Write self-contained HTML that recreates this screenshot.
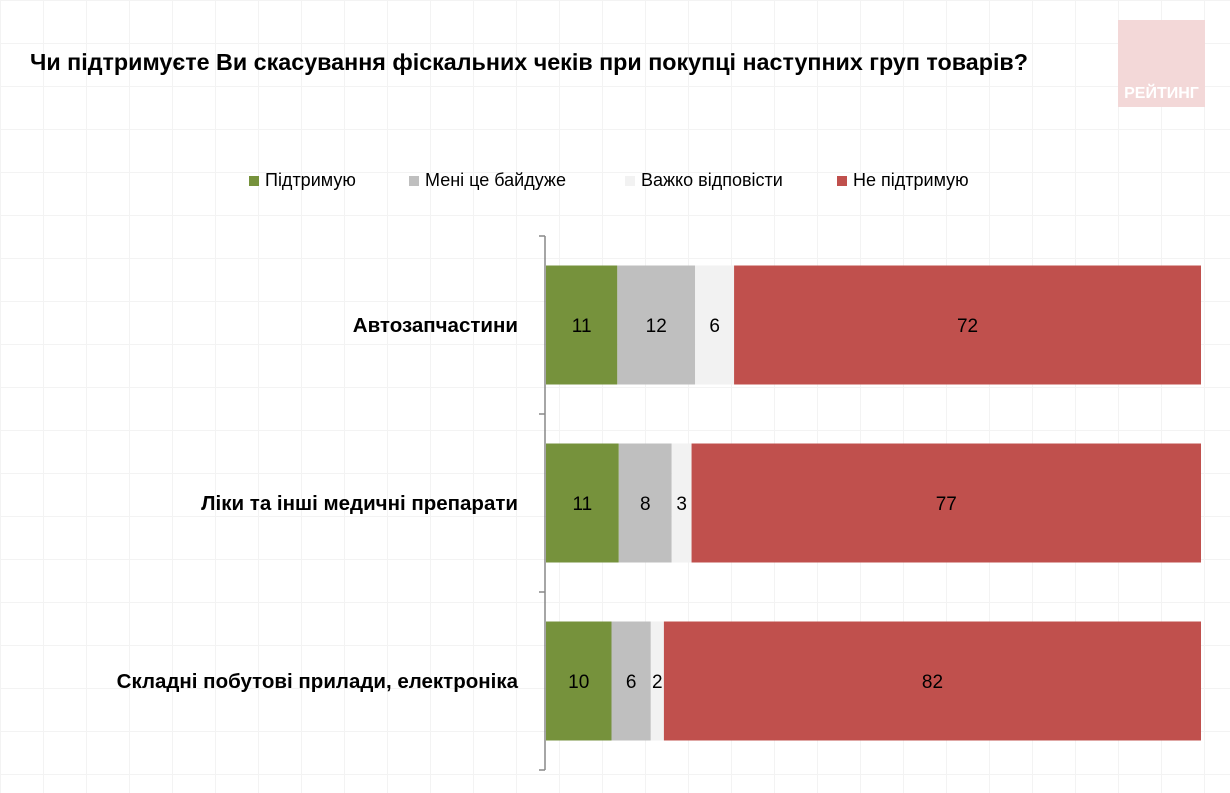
<!DOCTYPE html>
<html><head><meta charset="utf-8"><style>
body{margin:0;width:1230px;height:793px;overflow:hidden;background:#fff;font-family:"Liberation Sans",sans-serif;position:relative;
background-image:linear-gradient(#f3f3f3 1px,transparent 1px),linear-gradient(90deg,#f3f3f3 1px,transparent 1px);background-size:43px 43px;}
#title{position:absolute;left:30px;top:49px;font-size:23.3px;font-weight:bold;color:#000;white-space:nowrap}
#logo{position:absolute;left:1118px;top:20px;width:87px;height:87px;background:#f3d8d8;color:#fff;font-weight:bold;font-size:16px;text-align:center;line-height:18px;}
#logo span{position:absolute;left:0;right:0;bottom:4px}
.leg{position:absolute;top:170px;font-size:18px;display:flex;align-items:center;white-space:nowrap}
.leg i{display:inline-block;width:10px;height:10px;margin-right:6px}
</style></head><body>
<div id="title">Чи підтримуєте Ви скасування фіскальних чеків при покупці наступних груп товарів?</div>
<div id="logo"><span>РЕЙТИНГ</span></div>
<div class="leg" style="left:249px"><i style="background:#76923c"></i>Підтримую</div>
<div class="leg" style="left:409px"><i style="background:#bfbfbf"></i>Мені це байдуже</div>
<div class="leg" style="left:625px"><i style="background:#f2f2f2"></i>Важко відповісти</div>
<div class="leg" style="left:837px"><i style="background:#c0504d"></i>Не підтримую</div>
<svg id="chart" width="1230" height="793" style="position:absolute;left:0;top:0"></svg>
<script>
const categories=["Автозапчастини","Ліки та інші медичні препарати","Складні побутові прилади, електроніка"];
const support=[11,11,10];
const indifferent=[12,8,6];
const hardToSay=[6,3,2];
const notSupport=[72,77,82];
const series=[support,indifferent,hardToSay,notSupport];
const colors=["#76923c","#bfbfbf","#f2f2f2","#c0504d"];
const names=["support","indifferent","hard-to-say","not-support"];
const NS="http://www.w3.org/2000/svg",svg=document.getElementById('chart');
const x0=546,plotW=655,top0=236,band=178,barH=119;
function mk(t,a){const e=document.createElementNS(NS,t);for(const k in a)e.setAttribute(k,a[k]);svg.appendChild(e);return e;}
const axis=mk('line',{x1:545,x2:545,y1:top0,y2:top0+band*categories.length,stroke:'#888','stroke-width':1.5});


for(let i=0;i<=categories.length;i++){
  const t=mk('line',{x1:539,x2:545,y1:top0+band*i,y2:top0+band*i,stroke:'#888','stroke-width':1.5});
  
  
}
categories.forEach((c,i)=>{
  const y=top0+band*i+(band-barH)/2;
  const total=series.reduce((s,a)=>s+a[i],0);
  let x=x0;
  const lab=mk('text',{x:518,y:y+barH/2+7,'text-anchor':'end','font-size':20.5,'font-weight':'bold','font-family':'Liberation Sans, sans-serif'});
  lab.textContent=c;
  
  
  series.forEach((s,j)=>{
    const w=s[i]/total*plotW;
    const r=mk('rect',{x:x,y:y,width:w,height:barH,fill:colors[j]});
    
    
    const t=mk('text',{x:x+w/2,y:y+barH/2+7,'text-anchor':'middle','font-size':19,'font-family':'Liberation Sans, sans-serif'});
    t.textContent=s[i];
    
    
    x+=w;
  });
});
</script>
</body></html>
